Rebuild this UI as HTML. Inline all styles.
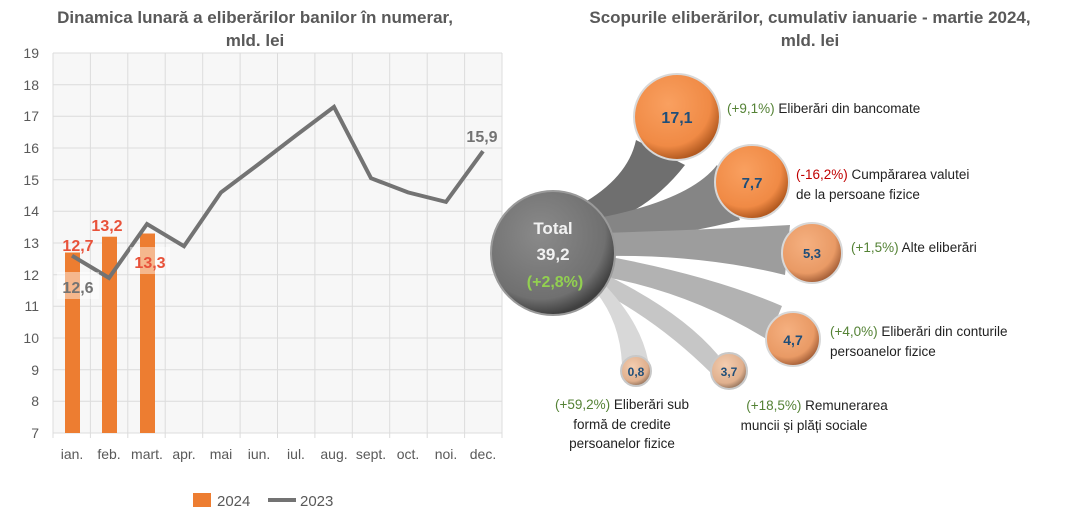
<!DOCTYPE html>
<html><head><meta charset="utf-8"><style>
body{margin:0;background:#fff;}
svg{display:block;font-family:"Liberation Sans",sans-serif;}
</style></head><body>
<svg width="1088" height="522" viewBox="0 0 1088 522">
<defs>
<radialGradient id="og" cx="40%" cy="35%" r="65%"><stop offset="0" stop-color="#f9a060"/><stop offset="0.75" stop-color="#f08a45"/><stop offset="1" stop-color="#b35a20"/></radialGradient>
<radialGradient id="og2" cx="40%" cy="35%" r="65%"><stop offset="0" stop-color="#f5b080"/><stop offset="0.75" stop-color="#e99a65"/><stop offset="1" stop-color="#a8623a"/></radialGradient>
<radialGradient id="og3" cx="40%" cy="35%" r="65%"><stop offset="0" stop-color="#f3cdb0"/><stop offset="0.75" stop-color="#e0b08e"/><stop offset="1" stop-color="#9a7860"/></radialGradient>
<radialGradient id="gg" cx="40%" cy="35%" r="65%"><stop offset="0" stop-color="#8a8a8a"/><stop offset="0.8" stop-color="#707070"/><stop offset="1" stop-color="#404040"/></radialGradient>
</defs>
<text x="255" y="23" text-anchor="middle" font-size="17" font-weight="bold" fill="#595959">Dinamica lunară a eliberărilor banilor în numerar,</text>
<text x="255" y="46" text-anchor="middle" font-size="17" font-weight="bold" fill="#595959">mld. lei</text>
<text x="810" y="23" text-anchor="middle" font-size="17" font-weight="bold" fill="#595959">Scopurile eliberărilor, cumulativ ianuarie - martie 2024,</text>
<text x="810" y="46" text-anchor="middle" font-size="17" font-weight="bold" fill="#595959">mld. lei</text>
<rect x="53" y="53" width="449" height="380" fill="#f7f7f7"/>
<g stroke="#dcdcdc" stroke-width="1">
<line x1="53" x2="502" y1="53" y2="53"/><line x1="53" x2="502" y1="84.7" y2="84.7"/><line x1="53" x2="502" y1="116.3" y2="116.3"/><line x1="53" x2="502" y1="148" y2="148"/><line x1="53" x2="502" y1="179.7" y2="179.7"/><line x1="53" x2="502" y1="211.3" y2="211.3"/><line x1="53" x2="502" y1="243" y2="243"/><line x1="53" x2="502" y1="274.7" y2="274.7"/><line x1="53" x2="502" y1="306.3" y2="306.3"/><line x1="53" x2="502" y1="338" y2="338"/><line x1="53" x2="502" y1="369.7" y2="369.7"/><line x1="53" x2="502" y1="401.3" y2="401.3"/><line x1="53" x2="502" y1="433" y2="433"/>
<line x1="53" x2="53" y1="53" y2="438"/><line x1="90.4" x2="90.4" y1="53" y2="438"/><line x1="127.8" x2="127.8" y1="53" y2="438"/><line x1="165.2" x2="165.2" y1="53" y2="438"/><line x1="202.7" x2="202.7" y1="53" y2="438"/><line x1="240.1" x2="240.1" y1="53" y2="438"/><line x1="277.5" x2="277.5" y1="53" y2="438"/><line x1="314.9" x2="314.9" y1="53" y2="438"/><line x1="352.3" x2="352.3" y1="53" y2="438"/><line x1="389.7" x2="389.7" y1="53" y2="438"/><line x1="427.2" x2="427.2" y1="53" y2="438"/><line x1="464.6" x2="464.6" y1="53" y2="438"/><line x1="502" x2="502" y1="53" y2="438"/>
</g>
<g font-size="14" fill="#595959" text-anchor="end">
<text x="39" y="58">19</text><text x="39" y="90">18</text><text x="39" y="121">17</text><text x="39" y="153">16</text><text x="39" y="185">15</text><text x="39" y="216">14</text><text x="39" y="248">13</text><text x="39" y="280">12</text><text x="39" y="311">11</text><text x="39" y="343">10</text><text x="39" y="375">9</text><text x="39" y="406">8</text><text x="39" y="438">7</text>
</g>
<g font-size="14" fill="#595959" text-anchor="middle">
<text x="72" y="459">ian.</text><text x="109" y="459">feb.</text><text x="147" y="459">mart.</text><text x="184" y="459">apr.</text><text x="221" y="459">mai</text><text x="259" y="459">iun.</text><text x="296" y="459">iul.</text><text x="334" y="459">aug.</text><text x="371" y="459">sept.</text><text x="408" y="459">oct.</text><text x="446" y="459">noi.</text><text x="483" y="459">dec.</text>
</g>
<rect x="65" y="252.5" width="15" height="180.5" fill="#ed7d31"/>
<rect x="102" y="236.7" width="15" height="196.3" fill="#ed7d31"/>
<rect x="140" y="233.5" width="15" height="199.5" fill="#ed7d31"/>
<polyline points="72,255.7 109,277.9 147,224 184,246.2 221,192.4 259,163.9 296,135.4 334,106.9 371,178.2 408,192.4 446,201.9 483,151.2" fill="none" stroke="#737373" stroke-width="4" stroke-linejoin="miter"/>
<rect x="57" y="272" width="42" height="27" fill="#fff" opacity="0.45"/>
<rect x="130" y="247" width="40" height="27" fill="#fff" opacity="0.45"/>
<g font-size="16" font-weight="bold">
<text x="78" y="251" text-anchor="middle" fill="#e8523a">12,7</text>
<text x="107" y="231" text-anchor="middle" fill="#e8523a">13,2</text>
<text x="150" y="268" text-anchor="middle" fill="#e8523a">13,3</text>
<text x="78" y="293" text-anchor="middle" fill="#737373">12,6</text>
<text x="482" y="142" text-anchor="middle" fill="#737373">15,9</text>
</g>
<rect x="193" y="493" width="18" height="14" fill="#ed7d31"/>
<text x="217" y="506" font-size="15" fill="#595959">2024</text>
<line x1="268" x2="296" y1="500" y2="500" stroke="#737373" stroke-width="4"/>
<text x="300" y="506" font-size="15" fill="#595959">2023</text>
<!-- bands -->
<path d="M580,205 Q628,178 636,140 L685,165 Q650,210 600,225 Z" fill="#6f6f6f"/>
<path d="M598,218 Q690,200 717,165 L740,220 Q680,236 600,242 Z" fill="#858585"/>
<path d="M600,233 Q700,230 790,225 L785,275 Q700,254 600,256 Z" fill="#9d9d9d"/>
<path d="M600,255 Q710,275 782,306 L768,340 Q690,292 600,276 Z" fill="#b2b2b2"/>
<path d="M600,272 Q680,310 718,355 L712,374 Q660,322 598,290 Z" fill="#c6c6c6"/>
<path d="M600,280 Q640,320 648,360 L622,364 Q620,322 596,292 Z" fill="#d8d8d8"/>
<circle cx="553" cy="253" r="62" fill="url(#gg)" stroke="#9a9a9a" stroke-width="2"/>
<circle cx="677" cy="117" r="43" fill="url(#og)" stroke="#d8d8d8" stroke-width="2"/>
<circle cx="752" cy="182" r="37" fill="url(#og)" stroke="#d8d8d8" stroke-width="2"/>
<circle cx="812" cy="253" r="30" fill="url(#og2)" stroke="#d8d8d8" stroke-width="2"/>
<circle cx="793" cy="339" r="27" fill="url(#og2)" stroke="#d8d8d8" stroke-width="2"/>
<circle cx="729" cy="371" r="18" fill="url(#og3)" stroke="#c8c8c8" stroke-width="2"/>
<circle cx="636" cy="371" r="15" fill="url(#og3)" stroke="#c8c8c8" stroke-width="2"/>
<g font-weight="bold" text-anchor="middle" fill="#1f4e79">
<text x="677" y="123" font-size="16">17,1</text>
<text x="752" y="188" font-size="15">7,7</text>
<text x="812" y="258" font-size="13">5,3</text>
<text x="793" y="345" font-size="14">4,7</text>
<text x="729" y="376" font-size="12">3,7</text>
<text x="636" y="376" font-size="12">0,8</text>
</g>
<g font-weight="bold" text-anchor="middle" font-size="17">
<text x="553" y="234" fill="#f2f2f2">Total</text>
<text x="553" y="260" fill="#f2f2f2">39,2</text>
<text x="555" y="287" fill="#92d050" font-size="16">(+2,8%)</text>
</g>
<g font-size="13.5" fill="#222">
<text x="727" y="113"><tspan fill="#548235">(+9,1%)</tspan> Eliberări din bancomate</text>
<text x="796" y="179"><tspan fill="#c00000">(-16,2%)</tspan> Cumpărarea valutei</text>
<text x="796" y="199">de la persoane fizice</text>
<text x="851" y="252"><tspan fill="#548235">(+1,5%)</tspan> Alte eliberări</text>
<text x="830" y="336"><tspan fill="#548235">(+4,0%)</tspan> Eliberări din conturile</text>
<text x="830" y="356">persoanelor fizice</text>
<text x="817" y="410" text-anchor="middle"><tspan fill="#548235">(+18,5%)</tspan> Remunerarea</text>
<text x="804" y="430" text-anchor="middle">muncii și plăți sociale</text>
<text x="622" y="409" text-anchor="middle"><tspan fill="#548235">(+59,2%)</tspan> Eliberări sub</text>
<text x="622" y="429" text-anchor="middle">formă de credite</text>
<text x="622" y="448" text-anchor="middle">persoanelor fizice</text>
</g>
</svg>
</body></html>
